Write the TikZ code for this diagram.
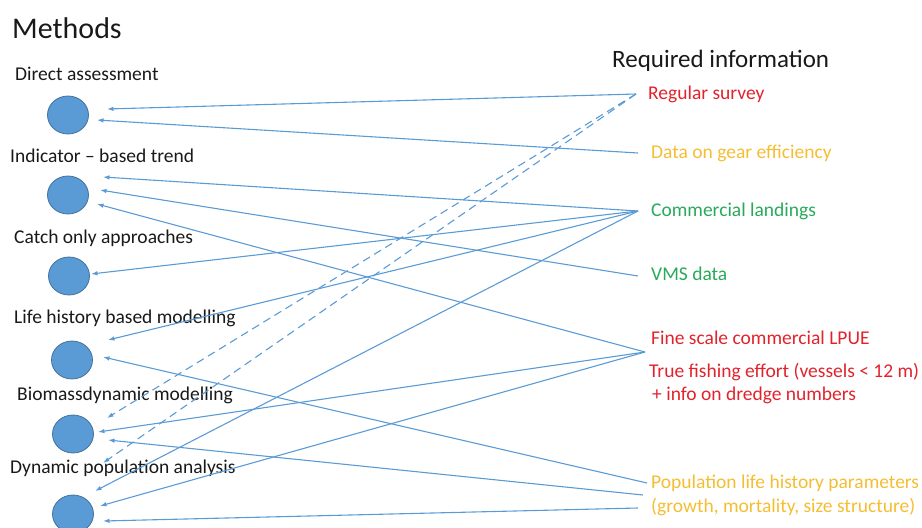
\documentclass[tikz,border=0pt]{standalone}
\usepackage{fontspec}
\setmainfont{Carlito}
\usetikzlibrary{arrows.meta,shapes.geometric}
\definecolor{linkblue}{RGB}{91,155,213}
\definecolor{circedge}{RGB}{65,113,156}
\definecolor{infored}{RGB}{225,35,45}
\definecolor{infogold}{RGB}{245,190,50}
\definecolor{infogreen}{RGB}{40,170,90}
\begin{document}
\begin{tikzpicture}[x=1pt,y=-1pt,
  method/.style={ellipse,fill=linkblue,draw=circedge,line width=0.8pt,
    minimum width=41pt,minimum height=38pt,inner sep=0pt},
  txt/.style={anchor=base west,inner sep=0pt,text=black!90,
    font=\fontsize{19.5}{22}\selectfont},
  link/.style={linkblue,line width=1.1pt,-{Latex[length=6.5pt,width=4.5pt]}}]
\useasboundingbox (0,0) rectangle (922,528);
% methods
\node[txt,font=\fontsize{30}{34}\selectfont] (hm) at (12,38) {Methods};
\node[txt] (l1) at (15,80) {Direct assessment};
\node[txt] (l2) at (10,162) {Indicator -- based trend};
\node[txt] (l3) at (14,243) {Catch only approaches};
\node[txt] (l4) at (14,323) {Life history based modelling};
\node[txt] (l5) at (17,400) {Biomassdynamic modelling};
\node[txt] (l6) at (10,473) {Dynamic population analysis};
\node[method] (m1) at (68,115) {};
\node[method] (m2) at (68,195) {};
\node[method] (m3) at (69,276) {};
\node[method] (m4) at (72,360) {};
\node[method] (m5) at (73,434) {};
\node[method] (m6) at (73,514) {};
% required information
\node[txt,font=\fontsize{25}{28}\selectfont] (hr) at (612,67) {Required information};
\node[txt,text=infored] (rs) at (648,99) {Regular survey};
\node[txt,text=infogold] (dg) at (651,158) {Data on gear efficiency};
\node[txt,text=infogreen] (cl) at (651,216) {Commercial landings};
\node[txt,text=infogreen] (vms) at (651,280) {VMS data};
\node[txt,text=infored] (fs) at (651,344) {Fine scale commercial LPUE};
\node[txt,text=infored] (tf1) at (649,377) {True fishing effort (vessels < 12 m)};
\node[txt,text=infored] (tf2) at (652,400) {+ info on dredge numbers};
\node[txt,text=infogold] (pp1) at (651,488) {Population life history parameters};
\node[txt,text=infogold] (pp2) at (651,512) {(growth, mortality, size structure)};
\coordinate (rs0) at (636,94);
\coordinate (dg0) at (638,153);
\coordinate (cl0) at (638,211);
\coordinate (vms0) at (638,276);
\coordinate (fs0) at (645,352);
\coordinate (pp0) at (647,483);
\coordinate (pp0b) at (643,495);
\coordinate (pp0c) at (638,508);
% links
\foreach \s/\m/\dx/\dy in {rs0/m1/39/-6, dg0/m1/29/5,
    cl0/m2/35/-18, vms0/m2/32/-5, fs0/m2/29/9,
    cl0/m3/22/-2, cl0/m4/36/-20, pp0/m4/31/-3,
    fs0/m5/25/-2, pp0b/m5/35/6,
    cl0/m6/22/-23, fs0/m6/27/-8, pp0c/m6/30/7}
  \draw[link] (\s) -- ([shift={(\dx,\dy)}]\m.center);
\draw[link,dash pattern=on 8pt off 5pt] (rs0) -- ([shift={(34,-16)}]m5.center);
\draw[link,dash pattern=on 8pt off 5pt] (rs0) -- ([shift={(30,-51)}]m6.center);
\end{tikzpicture}
\end{document}
